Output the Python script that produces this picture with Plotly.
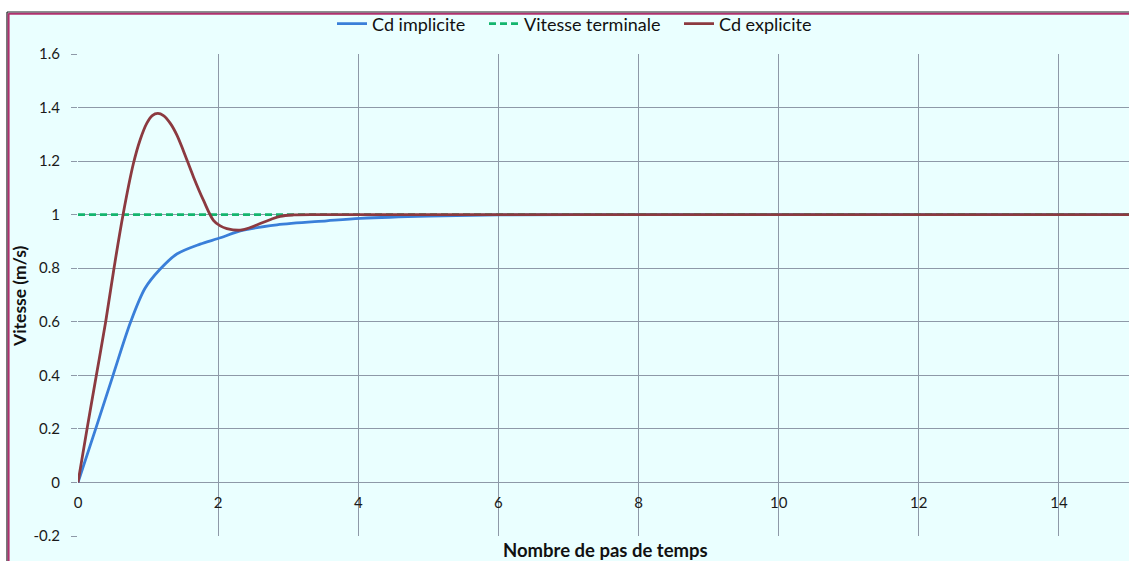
import plotly.graph_objects as go

# ---- data ----
t_implicite = [0, 0.252, 0.5, 0.752, 0.957, 1.167, 1.41, 1.743, 2.0, 2.36, 2.84, 3.55, 4.03, 5, 6, 8, 10, 12, 15]
v_implicite = [0, 0.2, 0.4, 0.6, 0.725, 0.795, 0.853, 0.89, 0.911, 0.942, 0.962, 0.977, 0.986, 0.995, 0.999,
               1.0, 1.0, 1.0, 1.0]

t_explicite = [0, 0.129, 0.262, 0.395, 0.514, 0.643, 0.79, 0.886, 0.981, 1.06, 1.139, 1.22, 1.32, 1.41,
               1.505, 1.648, 1.79, 1.933, 2.03, 2.124, 2.314, 2.45, 2.6, 2.75, 2.886, 3.08, 3.5, 4, 6, 8,
               10, 12, 15]
v_explicite = [0, 0.2, 0.4, 0.6, 0.8, 1.0, 1.19, 1.279, 1.341, 1.370, 1.378, 1.370, 1.340, 1.298,
               1.238, 1.141, 1.054, 0.979, 0.958, 0.948, 0.942, 0.951, 0.967, 0.982, 0.994, 0.999, 1.0, 1.0,
               1.0, 1.0, 1.0, 1.0, 1.0]

t_terminale = [0, 15]
v_terminale = [1, 1]

y_tickvals = [-0.2, 0, 0.2, 0.4, 0.6, 0.8, 1.0, 1.2, 1.4, 1.6]
y_ticktext = ["-0.2", "0", "0.2", "0.4", "0.6", "0.8", "1", "1.2", "1.4", "1.6"]
x_tickvals = [0, 2, 4, 6, 8, 10, 12, 14]
x_ticktext = ["0", "2", "4", "6", "8", "10", "12", "14"]

# ---- layout geometry ----
W, H = 1129, 561
ML, MR, MT, MB = 78, 0, 54, 25
PW, PH = W - ML - MR, H - MT - MB


def px_x(px):
    return (px - ML) / PW


def px_y(py):
    return (H - MB - py) / PH


BG = "#eaffff"
GRID = "#8e99a8"
FONT = "Lato"

fig = go.Figure()
fig.add_trace(go.Scatter(x=t_implicite, y=v_implicite, mode="lines", name="Cd implicite", legend="legend",
                         line=dict(color="#3a7fd9", width=2.8, shape="spline", smoothing=0.9)))
fig.add_trace(go.Scatter(x=t_terminale, y=v_terminale, mode="lines", name="Vitesse terminale", legend="legend2",
                         line=dict(color="#14b56e", width=2.8, dash="7px,4px")))
fig.add_trace(go.Scatter(x=t_explicite, y=v_explicite, mode="lines", name="Cd explicite", legend="legend3",
                         line=dict(color="#8c3a40", width=2.8, shape="spline", smoothing=1.0)))

shapes = [
    # white page outside the chart frame
    dict(type="rect", xref="paper", yref="paper", x0=-0.2, x1=px_x(6.5), y0=-0.3, y1=1.3,
         fillcolor="white", line=dict(width=0), layer="above"),
    dict(type="rect", xref="paper", yref="paper", x0=-0.2, x1=1.2, y0=px_y(11.5), y1=1.3,
         fillcolor="white", line=dict(width=0), layer="above"),
    # frame: dark outer line + magenta inner line
    dict(type="line", xref="paper", yref="paper", x0=px_x(7), x1=1.2, y0=px_y(12), y1=px_y(12),
         line=dict(color="#222222", width=1.2), layer="above"),
    dict(type="line", xref="paper", yref="paper", x0=px_x(8.5), x1=1.2, y0=px_y(13.8), y1=px_y(13.8),
         line=dict(color="#b0306e", width=2), layer="above"),
    dict(type="line", xref="paper", yref="paper", x0=px_x(7), x1=px_x(7), y0=-0.3, y1=px_y(12),
         line=dict(color="#222222", width=1.2), layer="above"),
    dict(type="line", xref="paper", yref="paper", x0=px_x(8.6), x1=px_x(8.6), y0=-0.3, y1=px_y(13.2),
         line=dict(color="#b0306e", width=2), layer="above"),
]

annotations = [
    dict(text="<b>Nombre de pas de temps</b>", xref="paper", yref="paper",
         x=px_x(605), y=px_y(550), xanchor="center", yanchor="middle", showarrow=False,
         font=dict(family=FONT, size=18.5, color="#111111")),
    dict(text="<b>Vitesse (m/s)</b>", xref="paper", yref="paper", textangle=-90,
         x=px_x(19), y=px_y(296), xanchor="center", yanchor="middle", showarrow=False,
         font=dict(family=FONT, size=17.5, color="#111111")),
]

leg_common = dict(orientation="h", y=px_y(24), xanchor="left", yanchor="middle",
                  bgcolor="rgba(0,0,0,0)", font=dict(family=FONT, size=18, color="#111111"))

fig.update_layout(
    width=W, height=H,
    margin=dict(l=ML, r=MR, t=MT, b=MB, pad=0),
    paper_bgcolor=BG, plot_bgcolor=BG,
    font=dict(family=FONT, size=15, color="#1a1a1a"),
    showlegend=True,
    legend=dict(x=px_x(332), **leg_common),
    legend2=dict(x=px_x(484), **leg_common),
    legend3=dict(x=px_x(679), **leg_common),
    shapes=shapes,
    annotations=annotations,
    xaxis=dict(range=[0, 15], tickmode="array", tickvals=x_tickvals, ticktext=x_ticktext,
               showgrid=True, gridcolor=GRID, gridwidth=1, zeroline=False,
               showline=False, ticks="", anchor="free",
               position=(0 - (-0.2)) / (1.6 - (-0.2)), ticklabelstandoff=10,
               tickfont=dict(family=FONT, size=15, color="#1a1a1a")),
    yaxis=dict(range=[-0.2, 1.6], tickmode="array", tickvals=y_tickvals, ticktext=y_ticktext,
               showgrid=True, gridcolor=GRID, gridwidth=1, zeroline=False,
               showline=False, ticks="outside", ticklen=6, tickcolor=GRID, tickwidth=1,
               ticklabelstandoff=8,
               tickfont=dict(family=FONT, size=15, color="#1a1a1a")),
)

fig.write_html("out.html", config={"displayModeBar": False},
               post_script="document.body.style.margin='0';")
